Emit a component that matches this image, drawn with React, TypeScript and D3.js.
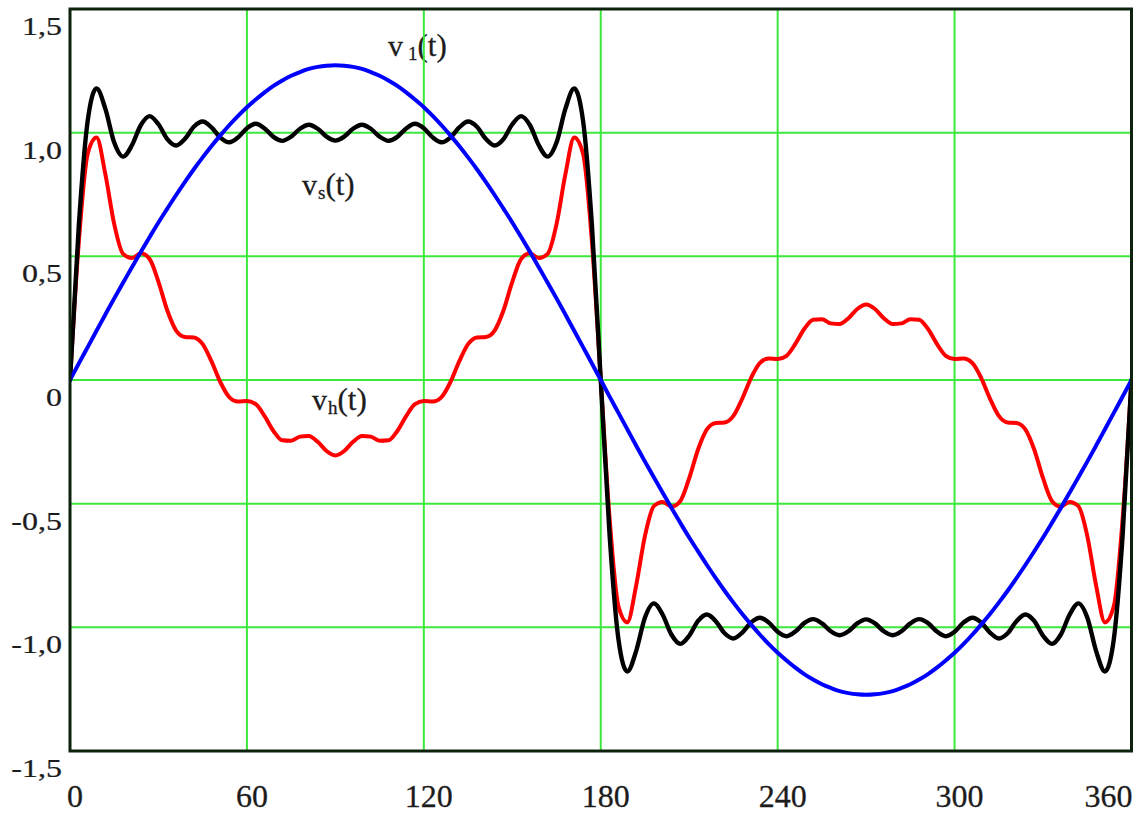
import React from 'react';
import * as d3 from 'd3';

// Sample grid in degrees (one sample every 3°)
const degrees = [
  0, 3, 6, 9, 12, 15, 18, 21, 24, 27, 30, 33, 36, 39, 42, 45, 48, 51, 54, 57,
  60, 63, 66, 69, 72, 75, 78, 81, 84, 87, 90, 93, 96, 99, 102, 105, 108, 111, 114, 117,
  120, 123, 126, 129, 132, 135, 138, 141, 144, 147, 150, 153, 156, 159, 162, 165, 168, 171, 174, 177,
  180, 183, 186, 189, 192, 195, 198, 201, 204, 207, 210, 213, 216, 219, 222, 225, 228, 231, 234, 237,
  240, 243, 246, 249, 252, 255, 258, 261, 264, 267, 270, 273, 276, 279, 282, 285, 288, 291, 294, 297,
  300, 303, 306, 309, 312, 315, 318, 321, 324, 327, 330, 333, 336, 339, 342, 345, 348, 351, 354, 357,
  360,
];

// Fundamental v1(t)
const v1 = [
  0, 0.067, 0.133, 0.199, 0.265, 0.33, 0.393, 0.456, 0.518, 0.578, 0.637, 0.693, 0.748, 0.801, 0.852, 0.9, 0.946, 0.989, 1.03, 1.068,
  1.103, 1.134, 1.163, 1.189, 1.211, 1.23, 1.245, 1.258, 1.266, 1.271, 1.273, 1.271, 1.266, 1.258, 1.245, 1.23, 1.211, 1.189, 1.163, 1.134,
  1.103, 1.068, 1.03, 0.989, 0.946, 0.9, 0.852, 0.801, 0.748, 0.693, 0.637, 0.578, 0.518, 0.456, 0.393, 0.33, 0.265, 0.199, 0.133, 0.067,
  0, -0.067, -0.133, -0.199, -0.265, -0.33, -0.393, -0.456, -0.518, -0.578, -0.637, -0.693, -0.748, -0.801, -0.852, -0.9, -0.946, -0.989, -1.03, -1.068,
  -1.103, -1.134, -1.163, -1.189, -1.211, -1.23, -1.245, -1.258, -1.266, -1.271, -1.273, -1.271, -1.266, -1.258, -1.245, -1.23, -1.211, -1.189, -1.163, -1.134,
  -1.103, -1.068, -1.03, -0.989, -0.946, -0.9, -0.852, -0.801, -0.748, -0.693, -0.637, -0.578, -0.518, -0.456, -0.393, -0.33, -0.265, -0.199, -0.133, -0.067,
  0,
];

// Square-wave synthesis vs(t)
const vs = [
  0, 0.627, 1.048, 1.179, 1.096, 0.96, 0.903, 0.949, 1.03, 1.067, 1.034, 0.974, 0.948, 0.975, 1.024, 1.045, 1.021, 0.98, 0.961, 0.981,
  1.018, 1.036, 1.017, 0.983, 0.967, 0.984, 1.016, 1.032, 1.016, 0.984, 0.968, 0.984, 1.016, 1.032, 1.016, 0.984, 0.967, 0.983, 1.017, 1.036,
  1.018, 0.981, 0.961, 0.98, 1.021, 1.045, 1.024, 0.975, 0.948, 0.974, 1.034, 1.067, 1.03, 0.949, 0.903, 0.96, 1.096, 1.179, 1.048, 0.627,
  0, -0.627, -1.048, -1.179, -1.096, -0.96, -0.903, -0.949, -1.03, -1.067, -1.034, -0.974, -0.948, -0.975, -1.024, -1.045, -1.021, -0.98, -0.961, -0.981,
  -1.018, -1.036, -1.017, -0.983, -0.967, -0.984, -1.016, -1.032, -1.016, -0.984, -0.968, -0.984, -1.016, -1.032, -1.016, -0.984, -0.967, -0.983, -1.017, -1.036,
  -1.018, -0.981, -0.961, -0.98, -1.021, -1.045, -1.024, -0.975, -0.948, -0.974, -1.034, -1.067, -1.03, -0.949, -0.903, -0.96, -1.096, -1.179, -1.048, -0.627,
  0,
];

// Harmonic content vh(t)
const vh = [
  0, 0.56, 0.915, 0.98, 0.831, 0.63, 0.51, 0.493, 0.512, 0.489, 0.397, 0.281, 0.2, 0.174, 0.172, 0.145, 0.075, -0.009, -0.069, -0.087,
  -0.085, -0.098, -0.146, -0.206, -0.244, -0.246, -0.229, -0.226, -0.25, -0.287, -0.305, -0.287, -0.25, -0.226, -0.229, -0.246, -0.244, -0.206, -0.146, -0.098,
  -0.085, -0.087, -0.069, -0.009, 0.075, 0.145, 0.172, 0.174, 0.2, 0.281, 0.397, 0.489, 0.512, 0.493, 0.51, 0.63, 0.831, 0.98, 0.915, 0.56,
  0, -0.56, -0.915, -0.98, -0.831, -0.63, -0.51, -0.493, -0.512, -0.489, -0.397, -0.281, -0.2, -0.174, -0.172, -0.145, -0.075, 0.009, 0.069, 0.087,
  0.085, 0.098, 0.146, 0.206, 0.244, 0.246, 0.229, 0.226, 0.25, 0.287, 0.305, 0.287, 0.25, 0.226, 0.229, 0.246, 0.244, 0.206, 0.146, 0.098,
  0.085, 0.087, 0.069, 0.009, -0.075, -0.145, -0.172, -0.174, -0.2, -0.281, -0.397, -0.489, -0.512, -0.493, -0.51, -0.63, -0.831, -0.98, -0.915, -0.56,
  0,
];

const xTicks = [0, 60, 120, 180, 240, 300, 360];
const xTickLabels = ['0', '60', '120', '180', '240', '300', '360'];
const yTicks = [-1.5, -1, -0.5, 0, 0.5, 1, 1.5];
const yTickLabels = ['-1,5', '-1,0', '-0,5', '0', '0,5', '1,0', '1,5'];
const xGrid = [60, 120, 180, 240, 300];
const yGrid = [-1, -0.5, 0, 0.5, 1];

const W = 1148;
const H = 816;
const PLOT = { left: 70, right: 1131.5, top: 9, bottom: 751 };
const GRID = '#3de83d';
const FRAME = '#0c220c';
const INK = '#1c1c1c';
const FONT = '"Liberation Serif", "DejaVu Serif", serif';

export default function App() {
  const x = d3.scaleLinear().domain([0, 360]).range([PLOT.left, PLOT.right]);
  const y = d3.scaleLinear().domain([-1.5, 1.5]).range([PLOT.bottom, PLOT.top]);

  const path = (vals: number[]) =>
    d3
      .line<number>()
      .x((_, i) => x(degrees[i]))
      .y((d) => y(d))
      .curve(d3.curveMonotoneX)(vals) || '';

  const seriesLabel = (main: string, sub: string, px: number, py: number, gap: number) => (
    <text x={px} y={py} fontFamily={FONT} fontSize={30} fill={INK} stroke={INK} strokeWidth={0.3}>
      {main}
      <tspan dx={gap} dy={4} fontSize={19}>{sub}</tspan>
      <tspan dy={-4} fontSize={31}>(t)</tspan>
    </text>
  );

  return (
    <svg
      width={W}
      height={H}
      viewBox={`0 0 ${W} ${H}`}
      style={{ position: 'absolute', left: 0, top: 0, background: '#fff' }}
    >
      <defs>
        <clipPath id="plot-clip">
          <rect x={PLOT.left} y={PLOT.top} width={PLOT.right - PLOT.left} height={PLOT.bottom - PLOT.top} />
        </clipPath>
      </defs>
      <rect x={0} y={0} width={W} height={H} fill="#fff" />

      {/* curve names */}
      {seriesLabel('v', '1', 388, 56, 5)}
      {seriesLabel('v', 's', 302, 195, 1)}
      {seriesLabel('v', 'h', 312, 410, 1)}

      {/* grid */}
      {xGrid.map((d) => (
        <line key={`gx${d}`} x1={x(d)} x2={x(d)} y1={PLOT.top} y2={PLOT.bottom} stroke={GRID} strokeWidth={2} />
      ))}
      {yGrid.map((d) => (
        <line key={`gy${d}`} x1={PLOT.left} x2={PLOT.right} y1={y(d)} y2={y(d)} stroke={GRID} strokeWidth={2} />
      ))}

      {/* curves */}
      <g clipPath="url(#plot-clip)" fill="none" strokeLinejoin="round" strokeLinecap="round">
        <path d={path(vh)} stroke="#ff0000" strokeWidth={4} />
        <path d={path(vs)} stroke="#000000" strokeWidth={4.4} />
        <path d={path(v1)} stroke="#0000ff" strokeWidth={4} />
      </g>

      {/* frame */}
      <rect
        x={PLOT.left}
        y={PLOT.top}
        width={PLOT.right - PLOT.left}
        height={PLOT.bottom - PLOT.top}
        fill="none"
        stroke={FRAME}
        strokeWidth={3}
      />

      {/* y tick labels */}
      {yTicks.map((d, i) => (
        <text
          key={`yt${d}`}
          transform={`translate(62,${y(d) + 26}) scale(1,0.82)`}
          textAnchor="end"
          fontFamily={FONT}
          fontSize={32}
          fill={INK}
          stroke={INK}
          strokeWidth={0.3}
        >
          {yTickLabels[i]}
        </text>
      ))}

      {/* x tick labels */}
      {xTicks.map((d, i) => {
        const last = i === xTicks.length - 1;
        return (
          <text
            key={`xt${d}`}
            x={last ? PLOT.right + 1 : x(d) + 5}
            y={807}
            textAnchor={last ? 'end' : 'middle'}
            fontFamily={FONT}
            fontSize={32}
            fill={INK}
            stroke={INK}
            strokeWidth={0.3}
          >
            {xTickLabels[i]}
          </text>
        );
      })}
    </svg>
  );
}
